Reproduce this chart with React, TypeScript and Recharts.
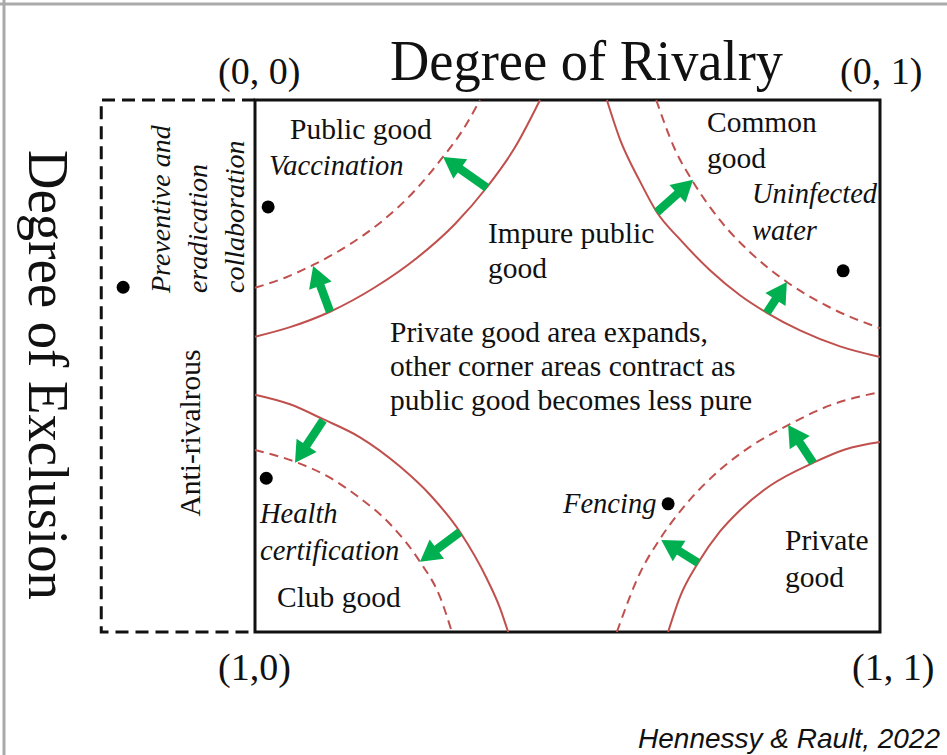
import React from "react";
import {
  ComposedChart,
  Line,
  Scatter,
  XAxis,
  YAxis,
  ReferenceArea,
  ReferenceLine,
  Customized,
} from "recharts";

// diagram units: x = degree of rivalry (0..1), y = degree of exclusion (0..1, downwards)
const X_DOMAIN: [number, number] = [-0.408, 1.1072];
const Y_DOMAIN: [number, number] = [-0.188, 1.2312];

const TL_SOLID = [
  { x: 0, y: 0.445 },
  { x: 0.056, y: 0.427 },
  { x: 0.12, y: 0.398 },
  { x: 0.192, y: 0.352 },
  { x: 0.259, y: 0.297 },
  { x: 0.32, y: 0.233 },
  { x: 0.371, y: 0.164 },
  { x: 0.416, y: 0.089 },
  { x: 0.456, y: 0 },
];
const TL_DASH = [
  { x: 0, y: 0.353 },
  { x: 0.048, y: 0.334 },
  { x: 0.093, y: 0.31 },
  { x: 0.152, y: 0.271 },
  { x: 0.205, y: 0.226 },
  { x: 0.256, y: 0.17 },
  { x: 0.296, y: 0.114 },
  { x: 0.331, y: 0.059 },
  { x: 0.36, y: 0 },
];
const TR_SOLID = [
  { x: 0.563, y: 0 },
  { x: 0.584, y: 0.074 },
  { x: 0.616, y: 0.153 },
  { x: 0.643, y: 0.211 },
  { x: 0.68, y: 0.262 },
  { x: 0.728, y: 0.32 },
  { x: 0.776, y: 0.367 },
  { x: 0.819, y: 0.4 },
  { x: 0.872, y: 0.433 },
  { x: 0.936, y: 0.463 },
  { x: 1, y: 0.483 },
];
const TR_DASH = [
  { x: 0.642, y: 0 },
  { x: 0.672, y: 0.093 },
  { x: 0.701, y: 0.154 },
  { x: 0.744, y: 0.226 },
  { x: 0.792, y: 0.286 },
  { x: 0.851, y: 0.342 },
  { x: 0.92, y: 0.39 },
  { x: 1, y: 0.429 },
];
const BL_SOLID = [
  { x: 0, y: 0.554 },
  { x: 0.056, y: 0.572 },
  { x: 0.109, y: 0.6 },
  { x: 0.168, y: 0.634 },
  { x: 0.232, y: 0.689 },
  { x: 0.28, y: 0.742 },
  { x: 0.328, y: 0.812 },
  { x: 0.371, y: 0.9 },
  { x: 0.392, y: 0.955 },
  { x: 0.405, y: 1 },
];
const BL_DASH = [
  { x: 0, y: 0.658 },
  { x: 0.064, y: 0.68 },
  { x: 0.12, y: 0.71 },
  { x: 0.163, y: 0.744 },
  { x: 0.216, y: 0.797 },
  { x: 0.264, y: 0.868 },
  { x: 0.296, y: 0.934 },
  { x: 0.315, y: 1 },
];
const BR_SOLID = [
  { x: 0.661, y: 1 },
  { x: 0.68, y: 0.934 },
  { x: 0.709, y: 0.87 },
  { x: 0.744, y: 0.811 },
  { x: 0.776, y: 0.771 },
  { x: 0.824, y: 0.725 },
  { x: 0.893, y: 0.682 },
  { x: 0.944, y: 0.657 },
  { x: 1, y: 0.643 },
];
const BR_DASH = [
  { x: 0.579, y: 1 },
  { x: 0.616, y: 0.889 },
  { x: 0.648, y: 0.825 },
  { x: 0.691, y: 0.758 },
  { x: 0.744, y: 0.695 },
  { x: 0.792, y: 0.652 },
  { x: 0.853, y: 0.611 },
  { x: 0.92, y: 0.574 },
  { x: 1, y: 0.549 },
];

const SOLID_CURVES = [TL_SOLID, TR_SOLID, BL_SOLID, BR_SOLID];
const DASHED_CURVES = [TL_DASH, TR_DASH, BL_DASH, BR_DASH];

// green arrows: from solid curve to dashed curve
const ARROWS = [
  { from: { x: 0.12, y: 0.398 }, to: { x: 0.093, y: 0.312 } },
  { from: { x: 0.371, y: 0.165 }, to: { x: 0.301, y: 0.107 } },
  { from: { x: 0.643, y: 0.211 }, to: { x: 0.701, y: 0.15 } },
  { from: { x: 0.819, y: 0.4 }, to: { x: 0.851, y: 0.342 } },
  { from: { x: 0.109, y: 0.602 }, to: { x: 0.064, y: 0.682 } },
  { from: { x: 0.328, y: 0.812 }, to: { x: 0.264, y: 0.868 } },
  { from: { x: 0.709, y: 0.87 }, to: { x: 0.65, y: 0.827 } },
  { from: { x: 0.893, y: 0.682 }, to: { x: 0.853, y: 0.611 } },
];

const EXAMPLE_DOTS = [
  { x: -0.211, y: 0.352 },
  { x: 0.021, y: 0.201 },
  { x: 0.941, y: 0.321 },
  { x: 0.018, y: 0.711 },
  { x: 0.661, y: 0.759 },
];

const ANTI_RIVAL_BOX = [
  { x: 0, y: 0 },
  { x: -0.246, y: 0 },
  { x: -0.246, y: 1 },
  { x: 0, y: 1 },
];

const RED = "#c0504d";
const GREEN = "#00b050";
const SERIF = "'Liberation Serif', 'Times New Roman', serif";

function ArrowShape(props: any) {
  const { x1, y1, x2, y2 } = props;
  const dx = x2 - x1;
  const dy = y2 - y1;
  const len = Math.hypot(dx, dy) || 1;
  const ux = dx / len;
  const uy = dy / len;
  const head = 21;
  const half = 12;
  const bx = x2 - ux * head;
  const by = y2 - uy * head;
  const px = -uy;
  const py = ux;
  return (
    <g>
      <line x1={x1} y1={y1} x2={bx + ux} y2={by + uy} stroke={GREEN} strokeWidth={8.5} />
      <polygon
        points={`${x2},${y2} ${bx + px * half},${by + py * half} ${bx - px * half},${by - py * half}`}
        fill={GREEN}
      />
    </g>
  );
}

function Labels() {
  const t = { fontFamily: SERIF, fontSize: 29.5, fill: "#111" };
  const it = { ...t, fontSize: 28.5, fontStyle: "italic" as const };
  return (
    <g>
      <line x1={4} y1={0} x2={4} y2={755} stroke="#aaaaaa" strokeWidth={3} />
      <line x1={0} y1={4} x2={947} y2={4} stroke="#aaaaaa" strokeWidth={3} />

      <text x={390} y={80} fontFamily={SERIF} fontSize={58} textLength={393} lengthAdjust="spacingAndGlyphs" fill="#111">
        Degree of Rivalry
      </text>
      <text
        transform="translate(29,375) rotate(90)"
        textAnchor="middle"
        fontFamily={SERIF}
        fontSize={58}
        textLength={450}
        lengthAdjust="spacingAndGlyphs"
        fill="#111"
      >
        Degree of Exclusion
      </text>

      <text x={218} y={84} fontFamily={SERIF} fontSize={38} fill="#111">(0, 0)</text>
      <text x={840} y={84} fontFamily={SERIF} fontSize={38} fill="#111">(0, 1)</text>
      <text x={218} y={680} fontFamily={SERIF} fontSize={38} fill="#111">(1,0)</text>
      <text x={852} y={680} fontFamily={SERIF} fontSize={38} fill="#111">(1, 1)</text>

      <text transform="translate(170,293) rotate(-90)" {...it} fontSize={28}>Preventive and</text>
      <text transform="translate(207,293) rotate(-90)" {...it} fontSize={28}>eradication</text>
      <text transform="translate(244,293) rotate(-90)" {...it} fontSize={28}>collaboration</text>
      <text transform="translate(200,433) rotate(-90)" textAnchor="middle" {...t}>Anti-rivalrous</text>

      <text x={290} y={139} {...t}>Public good</text>
      <text x={269} y={175} {...it}>Vaccination</text>

      <text x={488} y={243} {...t}>Impure public</text>
      <text x={488} y={278} {...t}>good</text>

      <text x={390} y={342} {...t}>Private good area expands,</text>
      <text x={390} y={376} {...t}>other corner areas contract as</text>
      <text x={390} y={410} {...t}>public good becomes less pure</text>

      <text x={707} y={132} {...t}>Common</text>
      <text x={707} y={168} {...t}>good</text>
      <text x={752} y={203} {...it}>Uninfected</text>
      <text x={752} y={240} {...it}>water</text>

      <text x={260} y={523} {...it}>Health</text>
      <text x={260} y={560} {...it}>certification</text>
      <text x={277} y={607} {...t}>Club good</text>

      <text x={563} y={513} {...it}>Fencing</text>
      <text x={785} y={550} {...t}>Private</text>
      <text x={785} y={587} {...t}>good</text>

      <text
        x={940}
        y={748}
        textAnchor="end"
        fontFamily="'Liberation Sans', Arial, sans-serif"
        fontStyle="italic"
        fontSize={28}
        fill="#111"
      >
        Hennessy &amp; Rault, 2022
      </text>
    </g>
  );
}

export default function App() {
  return (
    <div style={{ position: "absolute", left: 0, top: 0, width: 947, height: 755, background: "#fff" }}>
      <ComposedChart width={947} height={755} margin={{ top: 0, right: 0, bottom: 0, left: 0 }}>
        <XAxis type="number" dataKey="x" domain={X_DOMAIN} hide allowDataOverflow />
        <YAxis type="number" dataKey="y" domain={Y_DOMAIN} reversed hide allowDataOverflow />

        {SOLID_CURVES.map((pts, i) => (
          <Line
            key={`s${i}`}
            data={pts}
            dataKey="y"
            type="monotone"
            stroke={RED}
            strokeWidth={2}
            dot={false}
            activeDot={false}
            isAnimationActive={false}
          />
        ))}
        {DASHED_CURVES.map((pts, i) => (
          <Line
            key={`d${i}`}
            data={pts}
            dataKey="y"
            type="monotone"
            stroke={RED}
            strokeWidth={2}
            strokeDasharray="9 6"
            dot={false}
            activeDot={false}
            isAnimationActive={false}
          />
        ))}

        <Line
          data={ANTI_RIVAL_BOX}
          dataKey="y"
          type="linear"
          stroke="#111"
          strokeWidth={3}
          strokeDasharray="13 7"
          dot={false}
          activeDot={false}
          isAnimationActive={false}
        />
        <ReferenceArea x1={0} x2={1} y1={0} y2={1} fill="none" stroke="#111" strokeWidth={3} fillOpacity={0} />

        {ARROWS.map((a, i) => (
          <ReferenceLine key={`a${i}`} segment={[a.from, a.to]} shape={ArrowShape} />
        ))}

        <Scatter
          data={EXAMPLE_DOTS}
          isAnimationActive={false}
          shape={(p: any) => <circle cx={p.cx} cy={p.cy} r={6.5} fill="#000" />}
        />

        <Customized component={<Labels />} />
      </ComposedChart>
    </div>
  );
}
